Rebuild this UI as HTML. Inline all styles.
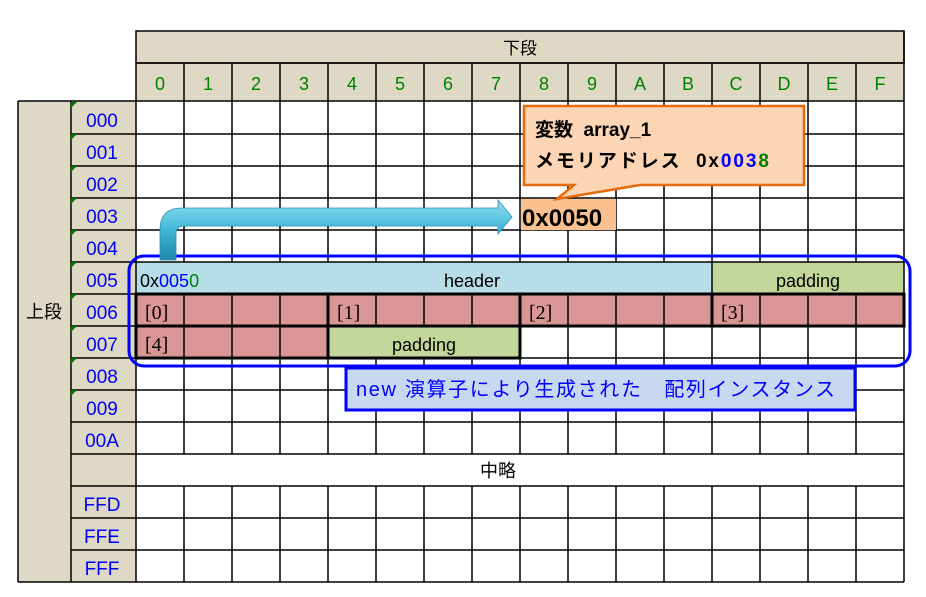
<!DOCTYPE html>
<html><head><meta charset="utf-8"><style>
html,body{margin:0;padding:0;background:#fff;width:926px;height:597px;overflow:hidden}
svg{display:block}
text{font-family:"Liberation Sans","Noto Sans CJK JP",sans-serif}
</style></head><body>
<svg width="926" height="597" viewBox="0 0 926 597" xmlns="http://www.w3.org/2000/svg">
<defs>
<linearGradient id="pipe" x1="0" y1="0" x2="0" y2="1">
<stop offset="0" stop-color="#8fe0f0"/><stop offset="0.5" stop-color="#3fb6d6"/><stop offset="1" stop-color="#1e88aa"/>
</linearGradient>
</defs>
<rect x="136" y="31" width="768" height="70" fill="#ddd9c4"/>
<rect x="18" y="101" width="118" height="481" fill="#ddd9c4"/>
<rect x="136" y="262" width="576" height="32" fill="#b7dde8"/>
<rect x="712" y="262" width="192" height="32" fill="#c4d79b"/>
<rect x="136" y="294" width="768" height="32" fill="#da9694"/>
<rect x="136" y="326" width="192" height="32" fill="#da9694"/>
<rect x="328" y="326" width="192" height="32" fill="#c4d79b"/>
<g stroke="#000" stroke-width="1.5" fill="none">
<rect x="136" y="31" width="768" height="32"/>
<line x1="136" y1="63" x2="904" y2="63"/>
<line x1="18" y1="101" x2="904" y2="101"/>
<line x1="18" y1="101" x2="18" y2="582"/>
<line x1="71" y1="101" x2="71" y2="582"/>
<line x1="136" y1="63" x2="136" y2="582"/>
<line x1="904" y1="31" x2="904" y2="582"/>
<line x1="18" y1="582" x2="904" y2="582"/>
<path d="M71 134H904M71 166H904M71 198H904M71 230H904M71 262H904M71 294H904M71 326H904M71 358H904M71 390H904M71 422H904M71 454H904M71 486H904M71 518H904M71 550H904"/>
<path d="M184 63V262M232 63V262M280 63V262M328 63V262M376 63V262M424 63V262M472 63V262M520 63V262M568 63V262M616 63V262M664 63V262M712 63V262M760 63V262M808 63V262M856 63V262"/>
<path d="M712 262V294"/>
<path d="M184 294V358M232 294V358M280 294V358M328 294V358M376 294V326M424 294V326M472 294V326M520 294V454M568 294V454M616 294V454M664 294V454M712 294V454M760 294V454M808 294V454M856 294V454"/>
<path d="M184 358V454M232 358V454M280 358V454M328 358V454M376 358V454M424 358V454M472 358V454"/>
<path d="M184 486V582M232 486V582M280 486V582M328 486V582M376 486V582M424 486V582M472 486V582M520 486V582M568 486V582M616 486V582M664 486V582M712 486V582M760 486V582M808 486V582M856 486V582"/>
</g>
<g stroke="#000" stroke-width="3" fill="none">
<rect x="136" y="294" width="768" height="32"/>
<path d="M328 294V326M520 294V326M712 294V326"/>
<path d="M136 326V358H520V326M328 326V358"/>
</g>
<g fill="#007a00">
<path d="M71 102h6l-6 6z"/><path d="M71 134h6l-6 6z"/><path d="M71 166h6l-6 6z"/><path d="M71 198h6l-6 6z"/><path d="M71 230h6l-6 6z"/><path d="M71 262h6l-6 6z"/><path d="M71 294h6l-6 6z"/><path d="M71 326h6l-6 6z"/><path d="M71 358h6l-6 6z"/><path d="M71 390h6l-6 6z"/>
</g>
<text x="520" y="54" font-size="17" text-anchor="middle" fill="#000">下段</text>
<g font-size="18" fill="#008000" text-anchor="middle">
<text x="160" y="90">0</text><text x="208" y="90">1</text><text x="256" y="90">2</text><text x="304" y="90">3</text><text x="352" y="90">4</text><text x="400" y="90">5</text><text x="448" y="90">6</text><text x="496" y="90">7</text><text x="544" y="90">8</text><text x="592" y="90">9</text><text x="640" y="90">A</text><text x="688" y="90">B</text><text x="736" y="90">C</text><text x="784" y="90">D</text><text x="832" y="90">E</text><text x="880" y="90">F</text>
</g>
<g font-size="19" fill="#0000ff" text-anchor="middle">
<text x="102" y="127">000</text><text x="102" y="159">001</text><text x="102" y="191">002</text><text x="102" y="223">003</text><text x="102" y="255">004</text><text x="102" y="287">005</text><text x="102" y="319">006</text><text x="102" y="351">007</text><text x="102" y="383">008</text><text x="102" y="415">009</text><text x="102" y="447">00A</text><text x="102" y="511">FFD</text><text x="102" y="543">FFE</text><text x="102" y="575">FFF</text>
</g>
<text x="44" y="318" font-size="18" text-anchor="middle">上段</text>
<text x="498" y="477" font-size="18" text-anchor="middle">中略</text>
<text x="140" y="287" font-size="18"><tspan fill="#000">0x</tspan><tspan fill="#0000ff">005</tspan><tspan fill="#008000">0</tspan></text>
<text x="472" y="287" font-size="18" text-anchor="middle">header</text>
<text x="808" y="287" font-size="18" text-anchor="middle">padding</text>
<text x="424" y="351" font-size="18" text-anchor="middle">padding</text>
<g font-size="20">
<text x="145" y="319" style="font-family:'Liberation Serif',serif">[0]</text>
<text x="337" y="319" style="font-family:'Liberation Serif',serif">[1]</text>
<text x="529" y="319" style="font-family:'Liberation Serif',serif">[2]</text>
<text x="721" y="319" style="font-family:'Liberation Serif',serif">[3]</text>
<text x="145" y="351" style="font-family:'Liberation Serif',serif">[4]</text>
</g>
<rect x="129" y="256" width="781" height="110" rx="15" ry="15" fill="none" stroke="#0000ff" stroke-width="3"/>
<rect x="346" y="368" width="509" height="42" fill="#c6d9f1" stroke="#0000ff" stroke-width="3"/>
<text x="356" y="396" font-size="20" fill="#0000ff" textLength="479" lengthAdjust="spacing">new 演算子により生成された　配列インスタンス</text>
<path d="M160 260 V230 Q160 208 182 208 H498 V200 L512 217 L498 234 V226 H184 Q176 226 176 234 V260 Z" fill="url(#pipe)" stroke="#2a8fb0" stroke-width="0.8"/>
<rect x="521" y="199" width="95" height="31" fill="#fac090"/>
<text x="522" y="226" font-size="24" font-weight="bold" fill="#000">0x0050</text>
<path d="M524 106 H804 V185 H640 L557 199 L574 185 H524 Z" fill="#fcd5b4" stroke="#e46c0a" stroke-width="2.5"/>
<text x="535" y="136" font-size="19" font-weight="bold">変数&#160;&#160;array_1</text>
<text x="535" y="167" font-size="19" font-weight="bold" textLength="234" lengthAdjust="spacing">メモリアドレス&#160;&#160;0x<tspan fill="#0000ff">003</tspan><tspan fill="#008000">8</tspan></text>
</svg>
</body></html>
